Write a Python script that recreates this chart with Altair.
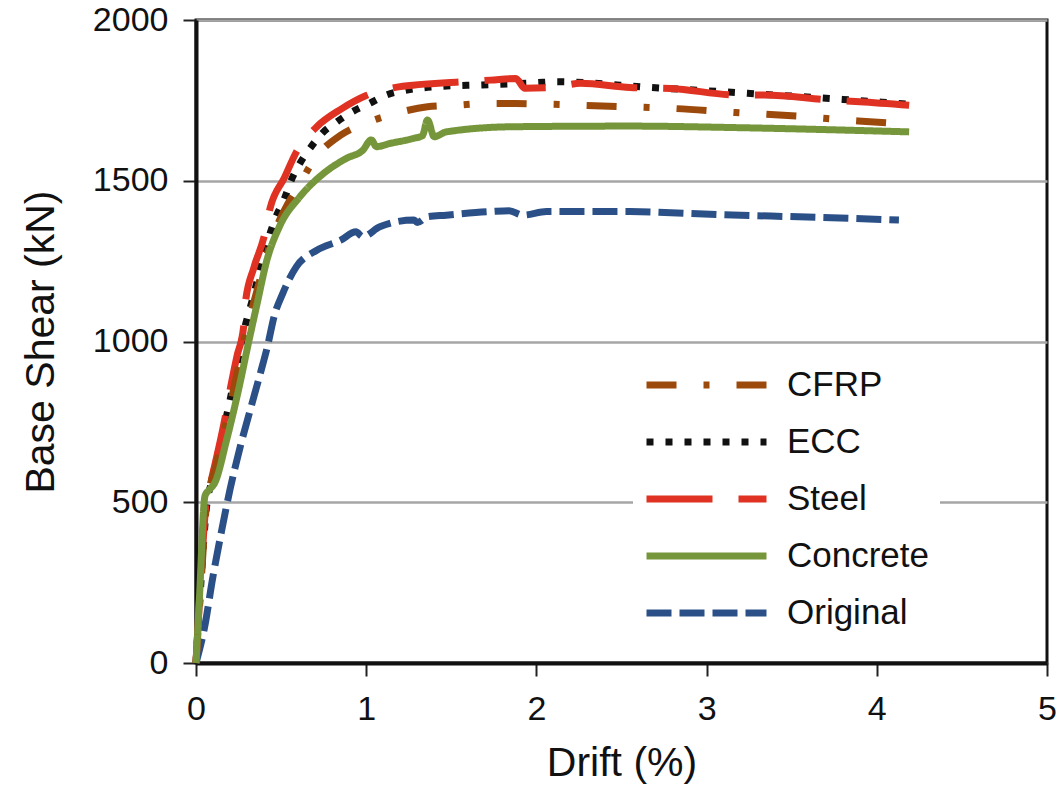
import altair as alt
import pandas as pd

SERIES = ["CFRP", "ECC", "Steel", "Concrete", "Original"]
COLORS = ["#9C4A0C", "#111111", "#E03222", "#76963B", "#2B5087"]
DASHES = [[30, 27, 6, 27], [7, 12], [66, 26], [1, 0], [25, 8]]
DRAW_ORDER = ["Original", "ECC", "Steel", "CFRP", "Concrete"]

cfrp_x = [0, 0.03, 0.06, 0.12, 0.2, 0.29, 0.38, 0.44, 0.52, 0.60, 0.70, 0.85, 0.99, 1.17,
          1.36, 1.53, 1.71, 1.88, 2.07, 2.26, 2.43, 2.80, 3.17, 3.53, 3.89, 4.19]
cfrp_y = [0, 250, 480, 620, 800, 1020, 1200, 1310, 1409, 1481, 1570, 1642, 1678, 1709,
          1730, 1735, 1740, 1740, 1738, 1735, 1732, 1725, 1712, 1701, 1686, 1676]

ecc_x = [0, 0.03, 0.065, 0.09, 0.2, 0.29, 0.32, 0.376, 0.435, 0.47, 0.52, 0.56, 0.61, 0.67,
         0.74, 0.83, 0.92, 1.02, 1.12, 1.24, 1.45, 1.68, 2.0, 2.12, 2.68, 3.24, 3.80, 4.19]
ecc_y = [0, 260, 500, 560, 818, 1051, 1108, 1222, 1336, 1388, 1445, 1502, 1554, 1601,
         1647, 1684, 1715, 1741, 1767, 1782, 1794, 1798, 1805, 1808, 1790, 1772, 1753, 1738]

steel_x = [0, 0.03, 0.06, 0.09, 0.17, 0.20, 0.24, 0.28, 0.29, 0.34, 0.40, 0.435, 0.52, 0.59,
           0.71, 0.85, 1.0, 1.19, 1.57, 1.73, 1.88, 1.93, 2.09, 2.26, 2.55, 2.79, 3.18,
           3.34, 3.73, 3.90, 4.19]
steel_y = [0, 280, 500, 569, 761, 849, 953, 1046, 1120, 1230, 1326, 1414, 1510, 1590,
           1668, 1722, 1765, 1792, 1808, 1813, 1818, 1788, 1790, 1803, 1790, 1787, 1767,
           1767, 1751, 1746, 1735]

concrete_x = [0, 0.02, 0.053, 0.08, 0.11, 0.18, 0.25, 0.31, 0.36, 0.415, 0.49, 0.61, 0.75,
              0.885, 0.98, 1.03, 1.06, 1.14, 1.28, 1.33, 1.36, 1.40, 1.47, 1.86, 2.55,
              3.2, 4.19]
concrete_y = [0, 200, 520, 540, 560, 694, 850, 1000, 1120, 1250, 1357, 1450, 1523,
              1570, 1595, 1627, 1606, 1616, 1632, 1640, 1689, 1637, 1652, 1668, 1670,
              1665, 1652]

original_x = [0, 0.05, 0.1, 0.15, 0.2, 0.26, 0.32, 0.38, 0.42, 0.46, 0.51, 0.59, 0.71,
              0.85, 0.94, 0.98, 1.08, 1.28, 1.30, 1.36, 1.47, 1.73, 1.84, 1.92, 2.06,
              2.55, 3.06, 3.65, 4.13]
original_y = [0, 110, 270, 410, 540, 673, 790, 905, 985, 1080, 1150, 1233, 1284,
              1315, 1341, 1326, 1357, 1378, 1370, 1388, 1393, 1404, 1407, 1393, 1404,
              1404, 1395, 1386, 1378]

series_data = {
    "CFRP": (cfrp_x, cfrp_y),
    "ECC": (ecc_x, ecc_y),
    "Steel": (steel_x, steel_y),
    "Concrete": (concrete_x, concrete_y),
    "Original": (original_x, original_y),
}

rows = []
for name, (xs, ys) in series_data.items():
    for i, (x, y) in enumerate(zip(xs, ys)):
        rows.append({"series": name, "drift": x, "shear": y, "idx": i})
df = pd.DataFrame(rows)

FONT = "Liberation Sans"

legend = alt.Legend(
    title=None, orient="none", legendX=437, legendY=337,
    symbolType="stroke", symbolSize=14400, symbolStrokeWidth=7,
    clipHeight=36, rowPadding=21, labelFontSize=35, labelFont=FONT,
    labelColor="#111111", labelOffset=17, padding=10, fillColor="white",
)

base = alt.Chart(df).mark_line(
    strokeWidth=7, strokeCap="butt", strokeJoin="round", interpolate="monotone"
).encode(
    x=alt.X("drift:Q", scale=alt.Scale(domain=[0, 5], nice=False),
            axis=alt.Axis(values=[0, 1, 2, 3, 4, 5], title="Drift (%)", grid=False,
                          labelPadding=16, titlePadding=17, labelFlush=False)),
    y=alt.Y("shear:Q", scale=alt.Scale(domain=[0, 2000], nice=False),
            axis=alt.Axis(values=[0, 500, 1000, 1500, 2000], title="Base Shear (kN)",
                          format="d", grid=True, labelPadding=15, titlePadding=30,
                          labelFlush=False)),
    color=alt.Color("series:N", scale=alt.Scale(domain=SERIES, range=COLORS), legend=legend),
    strokeDash=alt.StrokeDash("series:N", scale=alt.Scale(domain=SERIES, range=DASHES), legend=legend),
    order=alt.Order("idx:Q"),
)

chart = alt.layer(
    *[base.transform_filter(alt.datum.series == s) for s in DRAW_ORDER]
).properties(
    width=851, height=643,
    padding={"left": 196, "top": 20, "right": 12, "bottom": 128},
    autosize=alt.AutoSizeParams(type="none"),
).configure_view(
    stroke="#111111", strokeWidth=3
).configure_axis(
    domainColor="#111111", domainWidth=4,
    tickColor="#222222", tickWidth=2, tickSize=13,
    labelFont=FONT, labelFontSize=34, labelColor="#111111",
    titleFont=FONT, titleFontSize=41, titleFontWeight="normal", titleColor="#111111",
    gridColor="#A6A6A6", gridWidth=2.5,
)

chart.save("out.html", embed_options={"renderer": "svg", "actions": False})
